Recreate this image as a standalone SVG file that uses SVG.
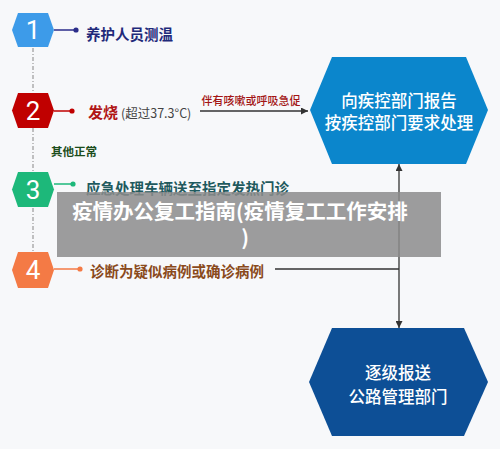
<svg xmlns="http://www.w3.org/2000/svg" width="500" height="449" viewBox="0 0 500 449">
<defs>
<style>
.t{font-family:"Noto Sans CJK SC","Noto Sans",sans-serif;}
.num{font-family:"Roboto","Liberation Sans",sans-serif;font-size:26px;fill:#fff;text-anchor:middle;}
.big{font-size:16.5px;fill:#fff;text-anchor:middle;font-weight:500;}
.lbl{font-size:14.5px;font-weight:700;}
.conn{stroke:#333;stroke-width:1.3;fill:none;}
.dash{stroke:#9a9a9a;stroke-width:1.2;stroke-dasharray:4 2 1 2;fill:none;}
</style>
<marker id="ah" viewBox="0 0 10 10" refX="10" refY="5" markerWidth="7" markerHeight="7" orient="auto" markerUnits="userSpaceOnUse">
<path d="M0,0 L10,5 L0,10 Z" fill="#333"/>
</marker>
</defs>
<rect width="500" height="449" fill="#f7f8fa"/>

<g id="connectors">
<path class="dash" d="M33,48 V92 M33,128 V172 M33,208 V252"/>
<path d="M54,30 H76" stroke="#2b2d8a" stroke-width="1.5"/><circle cx="76" cy="30" r="2.6" fill="#2b2d8a"/>
<path d="M54,111 H72" stroke="#c00000" stroke-width="1.5"/><circle cx="72" cy="111" r="2.6" fill="#c00000"/>
<path d="M54,184 H73" stroke="#1db87a" stroke-width="1.5"/><circle cx="73" cy="184" r="2.6" fill="#1db87a"/>
<path d="M54,269 H80" stroke="#f47a45" stroke-width="1.5"/><circle cx="80" cy="269" r="2.6" fill="#f47a45"/>
<path class="conn" d="M200,111 H308" marker-end="url(#ah)"/>
<path class="conn" d="M275,269 H399"/>
<path class="conn" d="M399,200 V164" marker-end="url(#ah)"/>
<path class="conn" d="M399,200 V328" marker-end="url(#ah)"/>
<text class="t" x="251" y="105" font-size="11" fill="#a31515" text-anchor="middle" font-weight="500">伴有咳嗽或呼吸急促</text>
<text class="t" x="51" y="155.5" font-size="11.5" fill="#1b4d1b" font-weight="700">其他正常</text>
</g>

<g id="n1">
<polygon points="12,30 18,13 48,13 54,30 48,47 18,47" fill="#3d9be9"/>
<text class="num" x="33" y="39">1</text>
<text class="t lbl" x="86" y="40" fill="#1f2a7a">养护人员测温</text>
</g>
<g id="n2">
<polygon points="12,110.5 18,93 48,93 54,110.5 48,128 18,128" fill="#c00000"/>
<text class="num" x="33" y="119.5">2</text>
<text class="t" x="88" y="118" font-size="15" font-weight="700" fill="#b01515">发烧</text>
<text class="t" x="121" y="118" font-size="12.5" fill="#444">(超过37.3°C)</text>
</g>
<g id="n3">
<polygon points="12,189.5 18,172 48,172 54,189.5 48,207 18,207" fill="#1db87a"/>
<text class="num" x="33" y="198.5">3</text>
<text class="t lbl" x="86" y="194" fill="#1f5a5e">应急处理车辆送至指定发热门诊</text>
</g>
<g id="n4">
<polygon points="12,270 18,252 48,252 54,270 48,288 18,288" fill="#f47a45"/>
<text class="num" x="33" y="279">4</text>
<text class="t lbl" x="90" y="277" fill="#8a4a1c">诊断为疑似病例或确诊病例</text>
</g>
<g id="n5">
<polygon points="310,110 332,57 466,57 488,110 466,164 332,164" fill="#0b86cc"/>
<text class="t big" x="399" y="107">向疾控部门报告</text>
<text class="t big" x="399" y="129">按疾控部门要求处理</text>
</g>
<g id="n6">
<polygon points="309,382 332,328 464,328 488,382 464,436 332,436" fill="#0d4f96"/>
<text class="t big" x="398" y="379">逐级报送</text>
<text class="t big" x="398" y="403">公路管理部门</text>
</g>

<g id="banner">
<rect x="57" y="192" width="384" height="65" fill="#8c8c8c" fill-opacity="0.85"/>
<text class="t" x="240" y="219" font-size="20.5" font-weight="700" fill="#fff" text-anchor="middle">疫情办公复工指南(疫情复工工作安排</text>
<text class="t" x="245" y="245" font-size="20.5" font-weight="700" fill="#fff" text-anchor="middle">)</text>
</g>
</svg>
